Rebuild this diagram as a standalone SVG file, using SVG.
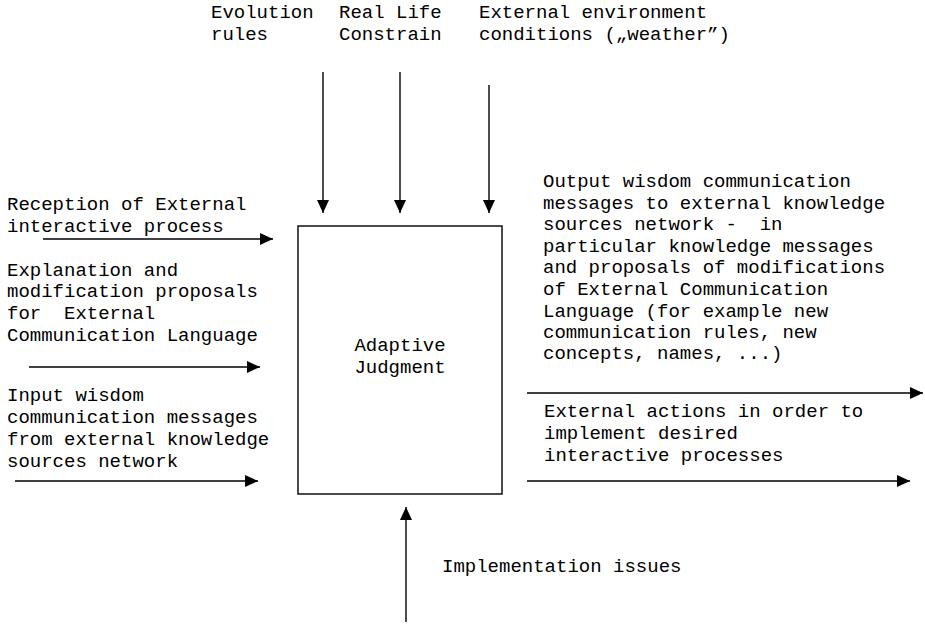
<svg xmlns="http://www.w3.org/2000/svg" width="925" height="625" viewBox="0 0 925 625">
  <style>
    text { font-family: "Liberation Mono", "Courier New", monospace; font-size: 19px; fill: #000; }
    .link { stroke: #000; stroke-width: 1.4; fill: none; marker-end: url(#head); }
    .box { fill: #fff; stroke: #000; stroke-width: 1.4; }
  </style>
  <defs>
    <marker id="head" markerUnits="userSpaceOnUse" markerWidth="14" markerHeight="14" viewBox="0 0 14 14" refX="13" refY="7" orient="auto">
      <path d="M0,1 L13,7 L0,13 Z" fill="#000"/>
    </marker>
  </defs>

  <!-- connectors -->
  <g id="connectors">
    <line class="link" x1="323" y1="72" x2="323" y2="213"/>
    <line class="link" x1="400" y1="72" x2="400" y2="213"/>
    <line class="link" x1="489" y1="85" x2="489" y2="213"/>
    <line class="link" x1="43" y1="239" x2="273" y2="239"/>
    <line class="link" x1="29" y1="367" x2="260" y2="367"/>
    <line class="link" x1="15" y1="481" x2="258" y2="481"/>
    <line class="link" x1="527" y1="393" x2="923" y2="393"/>
    <line class="link" x1="527" y1="481" x2="910" y2="481"/>
    <line class="link" x1="406" y1="622" x2="406" y2="507"/>
  </g>

  <!-- central process -->
  <g id="adaptive-judgment">
    <rect class="box" x="298" y="226" width="204" height="268"/>
    <text x="400" y="351" text-anchor="middle">Adaptive</text>
    <text x="400" y="373" text-anchor="middle">Judgment</text>
  </g>

  <!-- controls from above -->
  <g id="evolution-rules">
    <text x="211" y="18">Evolution</text>
    <text x="211" y="40">rules</text>
  </g>
  <g id="real-life-constrain">
    <text x="339" y="18">Real Life</text>
    <text x="339" y="40">Constrain</text>
  </g>
  <g id="external-environment">
    <text x="479" y="18">External environment</text>
    <text x="479" y="40">conditions („weather”)</text>
  </g>

  <!-- inputs -->
  <g id="reception">
    <text x="7" y="210">Reception of External</text>
    <text x="7" y="232">interactive process</text>
  </g>
  <g id="explanation">
    <text x="7" y="276">Explanation and</text>
    <text x="7" y="297">modification proposals</text>
    <text x="7" y="319" xml:space="preserve">for  External</text>
    <text x="7" y="341">Communication Language</text>
  </g>
  <g id="input-wisdom">
    <text x="7" y="401">Input wisdom</text>
    <text x="7" y="423">communication messages</text>
    <text x="7" y="445">from external knowledge</text>
    <text x="7" y="467">sources network</text>
  </g>

  <!-- outputs -->
  <g id="output-wisdom">
    <text x="543" y="187">Output wisdom communication</text>
    <text x="543" y="209">messages to external knowledge</text>
    <text x="543" y="230" xml:space="preserve">sources network -  in</text>
    <text x="543" y="252">particular knowledge messages</text>
    <text x="543" y="273">and proposals of modifications</text>
    <text x="543" y="295">of External Communication</text>
    <text x="543" y="317">Language (for example new</text>
    <text x="543" y="338">communication rules, new</text>
    <text x="543" y="359">concepts, names, ...)</text>
  </g>
  <g id="external-actions">
    <text x="544" y="417">External actions in order to</text>
    <text x="544" y="439">implement desired</text>
    <text x="544" y="461">interactive processes</text>
  </g>

  <!-- mechanism from below -->
  <g id="implementation-issues">
    <text x="442" y="572">Implementation issues</text>
  </g>
</svg>
